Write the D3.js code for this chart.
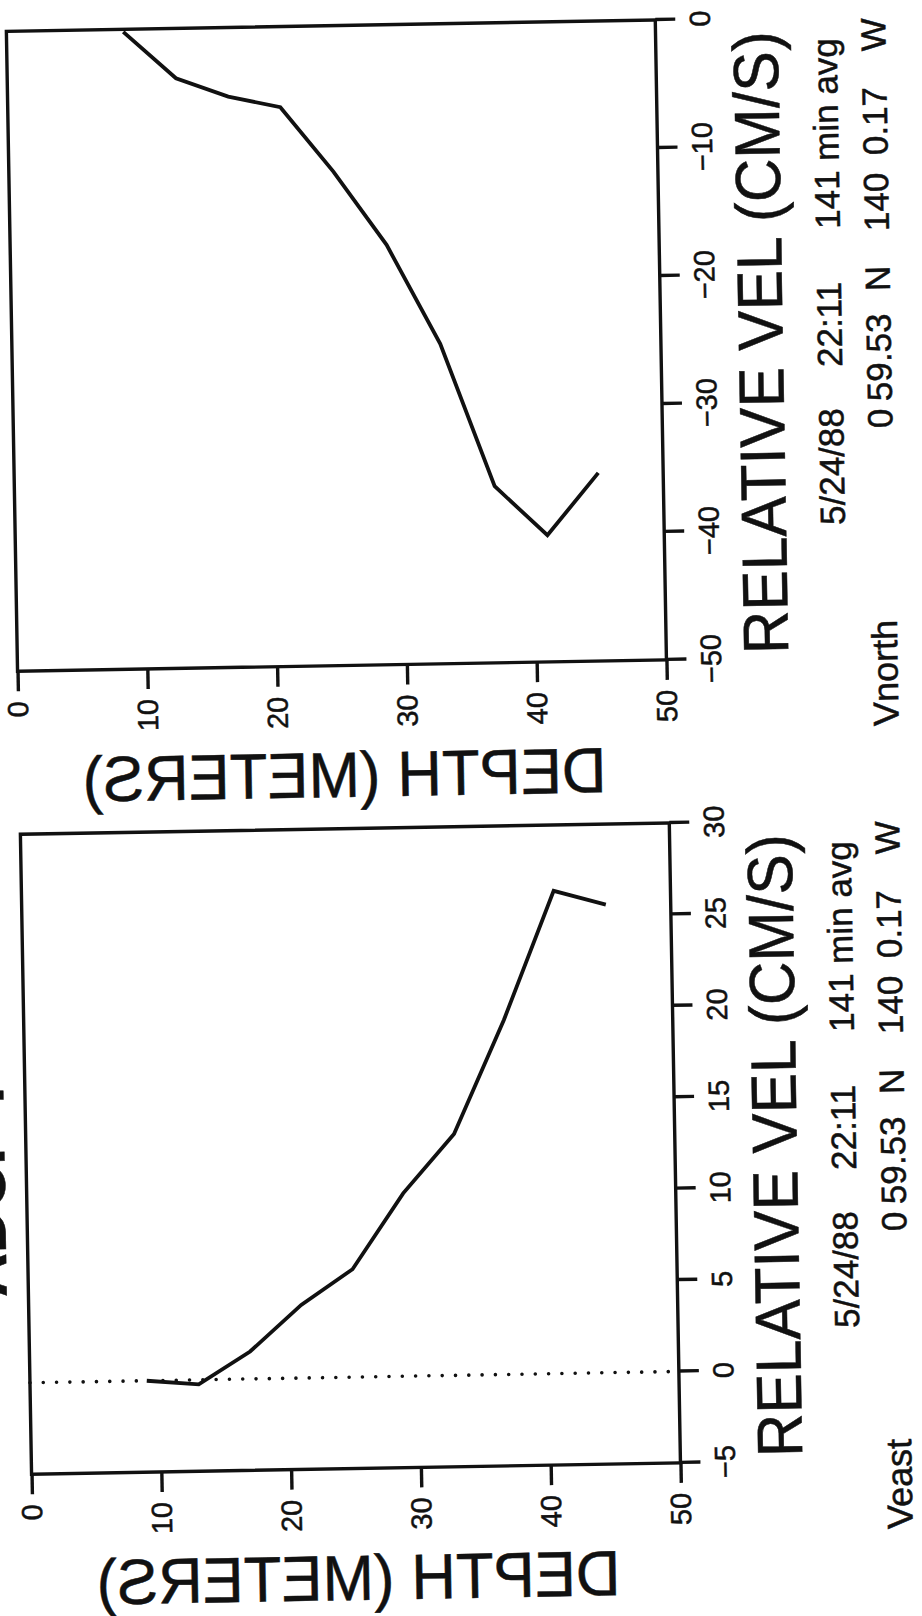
<!DOCTYPE html>
<html>
<head>
<meta charset="utf-8">
<script src="https://cdn.jsdelivr.net/npm/d3@7"></script>
<style>
  html, body { margin: 0; padding: 0; background: #fff; }
  svg { display: block; }
</style>
</head>
<body>
<div id="chart"></div>
<script>
// ---- profile data: depth bins (m) and relative velocity (cm/s) ----
const depths = [9, 13, 17, 21, 25, 29, 33, 37, 41, 45];
const veast  = [0, -0.25, 1.5, 4.0, 5.9, 10.0, 13.2, 19.4, 26.4, 25.6];
const vnorth = [-0.2, -3.9, -5.4, -6.3, -11.4, -17.2, -25.0, -36.2, -40.1, -35.3];

// ---- axes ----
const depthDomain = [0, 50];
const depthTicks = [0, 10, 20, 30, 40, 50];
const depthTickLabels = ["0", "10", "20", "30", "40", "50"];
const veastDomain = [-5, 30];
const veastTicks = [-5, 0, 5, 10, 15, 20, 25, 30];
const veastTickLabels = ["\u22125", "0", "5", "10", "15", "20", "25", "30"];
const vnorthDomain = [-50, 0];
const vnorthTicks = [-50, -40, -30, -20, -10, 0];
const vnorthTickLabels = ["\u221250", "\u221240", "\u221230", "\u221220", "\u221210", "0"];

// ---- text ----
const pageTitle = "ADCP 7";
const velTitle = "RELATIVE VEL (CM/S)";
const depthTitle = "DEPTH (METERS)";
const infoLine1 = ["5/24/88", "22:11", "141 min avg"];
const infoLine2 = ["0", "59.53", "N", "140", "0.17", "W"];
const componentNames = ["Veast", "Vnorth"];

// ---- layout (landscape page, drawn rotated onto the portrait sheet) ----
const W = 922, H = 1616;
const INK = "#111";
const FONT = "'Liberation Sans', Arial, Helvetica, sans-serif";
const TEXT_STROKE = 0.5;
const plotW = 640;
const depthRange = [20, 669];
const panelOrigins = [149.4, 952.5];
const velTitleWidth = 623;
const depthTitleWidth = 524;
const line1X = [132, 290, 428];
const line2X = [228, 255, 365, 425, 501, 605];

const panels = [
  { name: componentNames[0], values: veast,  domain: veastDomain,  ticks: veastTicks,  labels: veastTickLabels,  origin: panelOrigins[0] },
  { name: componentNames[1], values: vnorth, domain: vnorthDomain, ticks: vnorthTicks, labels: vnorthTickLabels, origin: panelOrigins[1] }
];

const svg = d3.select("#chart").append("svg")
  .attr("width", W).attr("height", H)
  .attr("viewBox", `0 0 ${W} ${H}`);

svg.append("rect").attr("width", W).attr("height", H).attr("fill", "#fff");

// the sheet sits slightly askew
const sheet = svg.append("g").attr("transform", `rotate(-1 ${W / 2} ${H / 2})`);
// landscape frame: u runs along the page height, v along its width
const land = sheet.append("g").attr("transform", `translate(0,${H}) rotate(-90)`);

function ink(sel) {
  return sel.attr("fill", INK).attr("stroke", INK).attr("stroke-width", TEXT_STROKE);
}

// squeeze a text horizontally to a given advance width
function fitWidth(sel, target, base) {
  const natural = sel.node().getComputedTextLength();
  sel.attr("transform", `${base} scale(${target / natural},1)`);
}

ink(land.append("text"))
  .attr("x", 327).attr("y", -1.6)
  .attr("font-family", FONT).attr("font-size", 61).attr("font-weight", "bold")
  .text(pageTitle);

panels.forEach(p => {
  const g = land.append("g").attr("transform", `translate(${p.origin},0)`);
  const x = d3.scaleLinear().domain(p.domain).range([0, plotW]);
  const y = d3.scaleLinear().domain(depthDomain).range(depthRange);

  // zero-velocity reference
  if (p.domain[0] < 0 && p.domain[1] > 0) {
    g.append("line")
      .attr("x1", x(0)).attr("x2", x(0))
      .attr("y1", y(0)).attr("y2", y(50))
      .attr("stroke", INK).attr("stroke-width", 3.6)
      .attr("stroke-linecap", "round")
      .attr("stroke-dasharray", "0 13.3");
  }

  // frame
  g.append("rect")
    .attr("x", 0).attr("y", y(0))
    .attr("width", plotW).attr("height", y(50) - y(0))
    .attr("fill", "none").attr("stroke", INK).attr("stroke-width", 3.4);

  // velocity axis
  const xa = g.append("g")
    .attr("transform", `translate(0,${y(50)})`)
    .call(d3.axisBottom(x)
      .tickValues(p.ticks)
      .tickFormat((d, i) => p.labels[i])
      .tickSize(20).tickSizeOuter(0).tickPadding(14));
  xa.select(".domain").remove();
  xa.attr("font-family", FONT).attr("font-size", 29);
  xa.selectAll(".tick line").attr("stroke", INK).attr("stroke-width", 3.4);
  ink(xa.selectAll(".tick text"));

  // depth axis
  const ya = g.append("g")
    .call(d3.axisLeft(y)
      .tickValues(depthTicks)
      .tickFormat((d, i) => depthTickLabels[i])
      .tickSize(20).tickSizeOuter(0).tickPadding(10));
  ya.select(".domain").remove();
  ya.attr("font-family", FONT).attr("font-size", 29);
  ya.selectAll(".tick line").attr("stroke", INK).attr("stroke-width", 3.4);
  ink(ya.selectAll(".tick text"));

  // profile
  const line = d3.line()
    .x((d, i) => x(p.values[i]))
    .y(d => y(d));
  g.append("path")
    .datum(depths)
    .attr("d", line)
    .attr("fill", "none").attr("stroke", INK)
    .attr("stroke-width", 3.8).attr("stroke-linejoin", "miter");

  // axis titles
  const vt = ink(g.append("text"))
    .attr("font-family", FONT).attr("font-size", 64)
    .text(velTitle);
  fitWidth(vt, velTitleWidth, "translate(4,791)");

  const dt = ink(g.append("text"))
    .attr("text-anchor", "middle")
    .attr("font-family", FONT).attr("font-size", 64)
    .text(depthTitle);
  fitWidth(dt, depthTitleWidth, "matrix(0,-1,-1,0,-131.4,345)");

  // averaging info
  const info = g.append("g").attr("font-family", FONT).attr("font-size", 35);
  ink(info.selectAll("text.l1").data(infoLine1).join("text")
    .attr("class", "l1")
    .attr("x", (d, i) => line1X[i]).attr("y", 850))
    .text(d => d);
  ink(info.selectAll("text.l2").data(infoLine2).join("text")
    .attr("class", "l2")
    .attr("x", (d, i) => line2X[i]).attr("y", 899))
    .text(d => d);

  ink(g.append("text"))
    .attr("x", -70).attr("y", 900)
    .attr("font-family", FONT).attr("font-size", 36)
    .text(p.name);
});
</script>
</body>
</html>
